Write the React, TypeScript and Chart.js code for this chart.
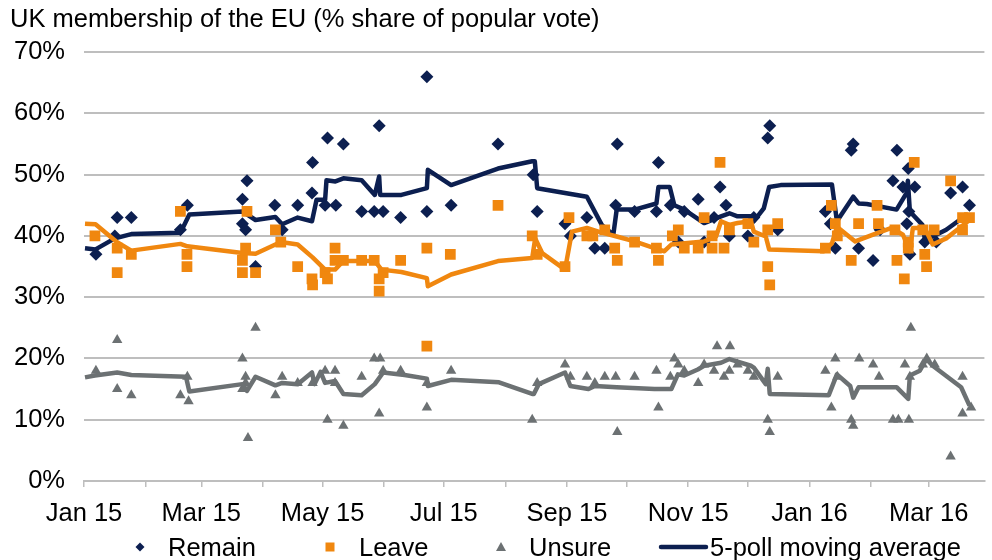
import React, { useEffect, useRef } from "react";
import { Chart, registerables } from "chart.js";

Chart.register(...registerables);

// x values are days since 1 Jan 2015
const remainPolls: [number, number][] = [
  [6, 37], [15.5, 40], [16.7, 43], [23.8, 43], [48.5, 41], [52, 45], [79.7, 46], [79.7, 42], [81.3, 41], [82, 49],
  [86.3, 35], [96, 45], [99.7, 41], [107.5, 45], [114.7, 47], [115, 52], [121.3, 45], [122.5, 56], [126.7, 45], [130.5, 55],
  [139.7, 44], [146, 44], [148.5, 58], [150.5, 44], [159.3, 43], [172.5, 66], [172.5, 44], [184.7, 45], [208.3, 55], [226, 50],
  [228, 44], [242, 42], [244.7, 40], [253, 43], [257, 38], [262, 38], [267.5, 45], [268.3, 55], [277, 44], [288, 44],
  [289, 52], [295, 45], [299, 39], [302, 44], [309, 46], [312, 39], [317, 43], [320, 48], [323, 45], [324.7, 40],
  [334, 40], [337, 43], [344, 56], [345, 58], [349, 41], [373, 44], [375.5, 42], [378, 38], [386, 54], [387, 55],
  [389.7, 38], [397, 36], [400.5, 41], [407, 49], [409, 54], [412, 48], [414, 42], [414.7, 51], [415, 44], [415.5, 37],
  [418, 48], [423, 39], [428.8, 39], [436, 47], [442, 48], [445.5, 45],
];

const leavePolls: [number, number][] = [
  [5.5, 40], [16.7, 38], [16.7, 34], [23.8, 37], [48.5, 44], [51.8, 37], [51.8, 35], [79.7, 36], [79.7, 34], [81.3, 38],
  [82, 44], [86.3, 34], [96.3, 41], [99, 39], [107.5, 35], [114.7, 33], [115, 32], [121.3, 34], [122.5, 33], [126.3, 38],
  [126.3, 36], [130.5, 36], [139.7, 36], [146, 36], [148.5, 33], [148.5, 31], [150.5, 34], [159.3, 36], [172.5, 38], [172.5, 22],
  [184.3, 37], [208.3, 45], [225.5, 40], [228, 37], [242, 35], [244, 43], [253, 40], [256, 40], [262, 41], [267, 38],
  [268.3, 36], [277, 39], [288, 38], [289, 36], [296, 40], [299, 41], [302, 38], [309, 38], [312, 43], [316, 40],
  [316, 38], [320, 52], [322, 38], [324.7, 41], [334, 42], [337, 39], [344, 41], [344, 35], [345, 32], [349, 42],
  [373, 38], [376, 45], [378, 42], [379, 40], [386, 36], [389.7, 42], [399, 45], [399.7, 42], [408, 41], [409, 36],
  [412.7, 33], [414.7, 39], [414.7, 38], [417.7, 52], [422, 41], [423, 37], [423.9, 35], [427.7, 41], [436, 49], [442, 43],
  [442, 41], [445.5, 43],
];

const unsurePolls: [number, number][] = [
  [6, 18], [16.7, 23], [16.7, 15], [23.8, 14], [48.5, 14], [52, 17], [52.6, 13], [79.7, 20], [79.7, 15], [81.3, 17],
  [81.3, 16], [82.5, 7], [86.3, 25], [96.3, 14], [99.7, 17], [107.5, 16], [115, 16], [121.3, 18], [122.5, 10], [126.3, 18],
  [126.3, 16], [130.5, 9], [139.7, 17], [146, 20], [149, 20], [148.5, 11], [150.5, 18], [159.3, 18], [172.5, 12], [172.5, 16],
  [184.7, 18], [225.5, 10], [228, 16], [242, 19], [244.7, 17], [253, 17], [257, 16], [262, 17], [267.5, 17], [268.3, 8],
  [277, 17], [288, 18], [289, 12], [295, 17], [297, 20], [299, 19], [302, 18], [309, 16], [312, 19], [317, 18],
  [318.5, 22], [322, 17], [325, 22], [324.7, 18], [328.8, 19], [334, 18], [337, 17], [344, 10], [345, 8], [349, 17],
  [373, 18], [376, 12], [378, 20], [379, 17], [386, 10], [387, 9], [390, 20], [397, 19], [400, 17], [407, 10],
  [409.7, 10], [413, 19], [415, 10], [416, 25], [415.5, 17], [422, 19], [424, 20], [428, 19], [436, 4], [442, 17],
  [442, 11], [446.3, 12],
];

const remainAverage: [number, number][] = [
  [0.5, 38], [5.8, 37.8], [15.5, 39.6], [23.8, 40.3], [48.5, 40.5], [53, 43.5], [79.7, 44], [86.3, 42.6], [96.3, 43.1], [99.7, 41.9],
  [107.5, 43], [114.7, 42.4], [117, 45.9], [121.3, 45.9], [122, 49.1], [126.5, 48.9], [130.5, 49.4], [139.7, 49.1], [146.3, 46.7], [148.5, 49.7],
  [149, 46.7], [159.7, 46.7], [172.5, 47.8], [173, 50.8], [184.7, 48.3], [208.3, 51], [225.5, 52.2], [226.8, 52.2], [228, 47.8], [253, 46.4],
  [260.5, 41.8], [266.3, 40.2], [268, 44.3], [277, 44.3], [288, 45.3], [289, 48], [294.7, 48], [297, 45], [302, 44.3], [312, 42.1],
  [320.5, 43.2], [324.7, 43.7], [328.8, 43.2], [335.5, 43.2], [337, 42.4], [342, 44.5], [344.7, 48], [350.5, 48.3], [376.3, 48.4], [378.8, 42.4],
  [387, 46.4], [389.7, 45.3], [393.8, 45.2], [408.8, 44.3], [413.8, 47], [414.5, 49], [415.5, 44], [421.8, 41.8], [423, 39.6], [427, 39.9],
  [433.8, 41], [440.5, 42.6], [445.5, 43.4],
];

const leaveAverage: [number, number][] = [
  [0.5, 42], [5.8, 41.9], [16.5, 39], [23.8, 37.6], [48.5, 38.7], [52, 38.3], [79.7, 37.2], [86.3, 37.1], [99, 39], [107.5, 38.6],
  [115, 36.5], [121.3, 34.5], [126.3, 34.5], [130.5, 35.9], [139.7, 35.9], [146.3, 35.9], [149.7, 34.5], [159.7, 34.1], [172.5, 33.1], [173, 31.8],
  [184.7, 33.7], [208.3, 35.9], [225.5, 36.4], [227, 39.6], [230.5, 37.2], [242, 34.5], [245.5, 40.7], [253, 41.3], [258.8, 40.7], [268, 39.9],
  [277, 39.1], [288.8, 37.8], [292, 37.5], [295.5, 38.6], [312, 39.1], [318, 39.9], [320.5, 42.4], [324.7, 41.8], [328.8, 42.1], [335.5, 42.4],
  [337, 40.7], [343, 39.9], [344.7, 37.8], [372, 37.5], [376.3, 38.8], [378.8, 41.5], [388, 39.1], [397, 40.2], [406.3, 41.3], [412, 40.2],
  [415.5, 37.5], [417, 41.3], [423, 41.3], [427, 38.6], [433.8, 39.6], [440.5, 41.3], [445.5, 42.6],
];

const unsureAverage: [number, number][] = [
  [0.5, 16.9], [5.5, 17.2], [16.7, 17.7], [23.8, 17.3], [51.3, 17], [53, 14.6], [79.7, 15.8], [82, 14.7], [86.3, 17], [96.3, 15.6],
  [99.7, 16], [107.5, 15.8], [114.7, 17.7], [116, 15.8], [119, 17.8], [121.3, 16], [126.3, 16.3], [130.5, 14.2], [139.7, 14], [146.3, 15.8],
  [150.5, 17.7], [161.3, 17.3], [172.5, 16.7], [173, 15.5], [184.7, 16.5], [208.8, 16.1], [225.5, 14.2], [226.3, 14.2], [228.8, 15.8], [242, 17.7],
  [244.7, 15.5], [253.8, 15], [257, 15.5], [268, 15.3], [287, 15], [295.5, 15], [298.8, 17.4], [302, 17.2], [308.8, 18.2], [312, 18.8],
  [320.5, 19.3], [324.7, 19.9], [335.5, 18.8], [337, 18.5], [343, 15.8], [344, 18.3], [345, 14.2], [374.7, 14], [378.8, 17.4], [385.5, 15.5],
  [387, 13.6], [389.7, 15.3], [408.8, 15.3], [414.7, 13.4], [415.5, 17.2], [420.5, 18], [423.8, 19.9], [427, 18.8], [441.3, 15.3], [445.5, 12.3],
];

const monthTicks = [0, 31, 59, 90, 120, 151, 181, 212, 243, 273, 304, 334, 365, 396, 425];
const monthLabels = ["Jan 15", "", "Mar 15", "", "May 15", "", "Jul 15", "", "Sep 15", "", "Nov 15", "", "Jan 16", "", "Mar 16"];

const titleText = "UK membership of the EU (% share of popular vote)";
const legendLabels = ["Remain", "Leave", "Unsure", "5-poll moving average"];

const NAVY = "#0C1F50";
const ORANGE = "#F0870F";
const GRAY = "#6C7173";
const GRID = "#BEBEBE";
const FONT = "'Liberation Sans', Arial, Helvetica, sans-serif";
const FS = 25.5;

const toXY = (arr: [number, number][]) => arr.map(([x, y]) => ({ x, y }));

const legendPlugin = {
  id: "bottomLegend",
  afterDraw(chart: any) {
    const ctx = chart.ctx as CanvasRenderingContext2D;
    const cy = 547;
    ctx.save();
    ctx.fillStyle = NAVY;
    ctx.beginPath();
    ctx.moveTo(140 - 4.5, cy);
    ctx.lineTo(140, cy - 4.5);
    ctx.lineTo(140 + 4.5, cy);
    ctx.lineTo(140, cy + 4.5);
    ctx.closePath();
    ctx.fill();
    ctx.fillStyle = ORANGE;
    ctx.fillRect(330 - 4.5, cy - 4.5, 9, 9);
    ctx.fillStyle = GRAY;
    ctx.beginPath();
    ctx.moveTo(501, cy - 5);
    ctx.lineTo(501 + 5, cy + 4);
    ctx.lineTo(501 - 5, cy + 4);
    ctx.closePath();
    ctx.fill();
    ctx.strokeStyle = NAVY;
    ctx.lineWidth = 4.5;
    ctx.lineCap = "round";
    ctx.beginPath();
    ctx.moveTo(661, cy);
    ctx.lineTo(706, cy);
    ctx.stroke();
    ctx.fillStyle = "#000";
    ctx.font = `${FS}px ${FONT}`;
    ctx.textBaseline = "alphabetic";
    ctx.textAlign = "left";
    const xs = [168, 359, 529, 710];
    legendLabels.forEach((t, i) => ctx.fillText(t, xs[i], 556));
    ctx.restore();
  },
};

export default function App() {
  const ref = useRef<HTMLCanvasElement | null>(null);

  useEffect(() => {
    if (!ref.current) return;
    const lineStyle = { type: "line", borderWidth: 4.5, pointRadius: 0, tension: 0, fill: false, borderJoinStyle: "round" };
    const chart = new Chart(ref.current, {
      type: "scatter",
      data: {
        datasets: [
          { ...lineStyle, label: "Unsure average", data: toXY(unsureAverage), borderColor: GRAY, order: 1 },
          {
            label: "Unsure",
            data: toXY(unsurePolls),
            pointStyle: "triangle",
            pointRadius: 6,
            backgroundColor: GRAY,
            borderWidth: 0,
            order: 2,
          },
          { ...lineStyle, label: "Leave average", data: toXY(leaveAverage), borderColor: ORANGE, order: 3 },
          {
            label: "Leave",
            data: toXY(leavePolls),
            pointStyle: "rect",
            pointRadius: 7.6,
            backgroundColor: ORANGE,
            borderWidth: 0,
            order: 4,
          },
          { ...lineStyle, label: "Remain average", data: toXY(remainAverage), borderColor: NAVY, order: 5 },
          {
            label: "Remain",
            data: toXY(remainPolls),
            pointStyle: "rectRot",
            pointRadius: 6.5,
            backgroundColor: NAVY,
            borderWidth: 0,
            order: 6,
          },
        ],
      } as any,
      options: {
        responsive: false,
        animation: false,
        events: [],
        layout: { padding: { left: 10, right: 2, top: 0, bottom: 18.5 } },
        plugins: {
          legend: { display: false },
          tooltip: { enabled: false },
          title: {
            display: true,
            text: titleText,
            align: "start",
            color: "#000",
            font: { family: FONT, size: FS, weight: "normal" },
            padding: { top: 5, bottom: 16.6 },
          },
        },
        scales: {
          x: {
            type: "linear",
            min: 0,
            max: 453,
            afterBuildTicks: (scale: any) => {
              scale.ticks = monthTicks.map((v) => ({ value: v }));
            },
            ticks: {
              autoSkip: false,
              maxRotation: 0,
              minRotation: 0,
              color: "#000",
              padding: 12,
              font: { family: FONT, size: FS },
              callback: (_v: any, i: number) => monthLabels[i],
            },
            grid: {
              drawOnChartArea: false,
              drawTicks: true,
              tickLength: 6,
              color: GRID,
              lineWidth: 1.5,
            },
            border: { display: true, color: GRID, width: 2 },
          },
          y: {
            min: 0,
            max: 70,
            ticks: {
              stepSize: 10,
              color: "#000",
              padding: 19,
              font: { family: FONT, size: FS },
              callback: (v: any) => `${v}%`,
            },
            grid: { color: GRID, lineWidth: 2, drawTicks: false },
            border: { display: false },
            afterFit: (scale: any) => {
              scale.width = 74;
            },
          },
        },
      } as any,
      plugins: [legendPlugin],
    });
    return () => chart.destroy();
  }, []);

  return (
    <div style={{ position: "absolute", left: 0, top: 0, width: 992, height: 560, background: "#fff" }}>
      <canvas ref={ref} width={992} height={560} style={{ display: "block", width: 992, height: 560 }} />
    </div>
  );
}
